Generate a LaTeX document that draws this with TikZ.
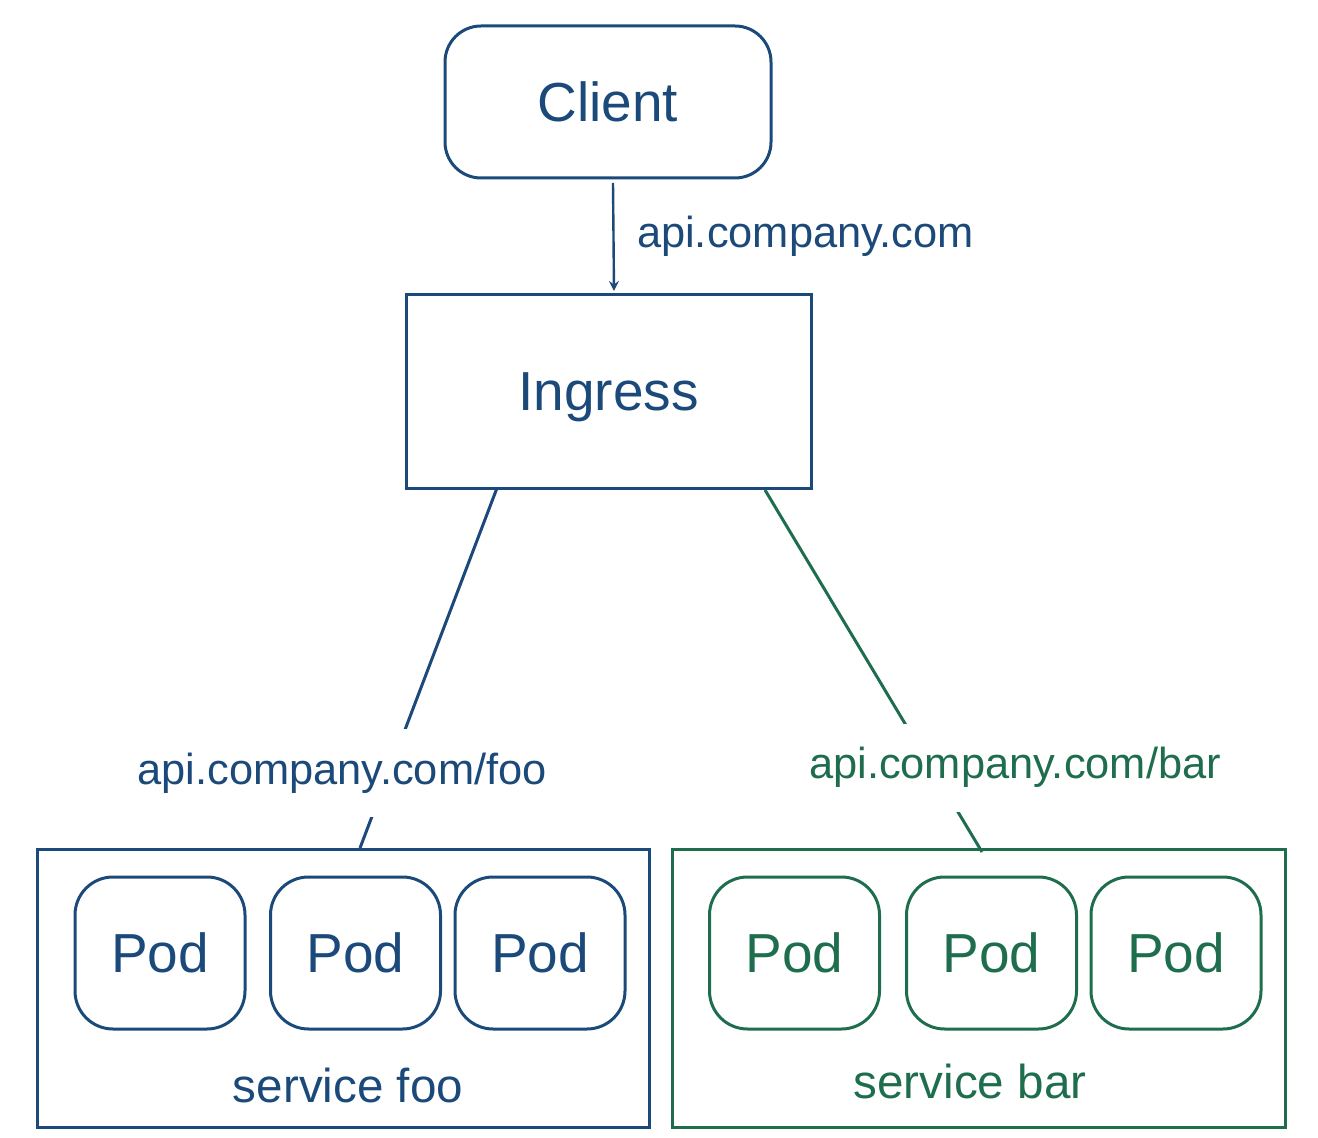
\documentclass[tikz,border=0pt]{standalone}
\usepackage{fontspec}
\setmainfont{Liberation Sans}
\usetikzlibrary{arrows}

\definecolor{fooblue}{RGB}{27,74,122}
\definecolor{bargreen}{RGB}{30,110,78}

\tikzset{
  box/.style={draw,line width=1.5pt,text depth=0pt,font=\fontsize{27.5}{30}\selectfont},
  pod/.style={box,rounded corners=19pt,minimum width=85pt,minimum height=76pt},
  url/.style={font=\fontsize{21.7}{24}\selectfont},
  svc/.style={font=\fontsize{23.8}{26}\selectfont}
}

\begin{document}
\begin{tikzpicture}[x=0.5pt,y=-0.5pt]
\useasboundingbox (0,0) rectangle (1318,1138);
\node[box,fooblue,rounded corners=18pt,minimum width=163pt,minimum height=76pt] (client) at (608,102) {Client};
\node[box,fooblue,minimum width=202.5pt,minimum height=97pt] (ingress) at (608.5,392) {Ingress};
\draw[fooblue,line width=1.5pt] (37,849) rectangle (649,1127);
\draw[bargreen,line width=1.5pt] (672,849) rectangle (1285,1127);
\node[pod,fooblue] (foo1) at (160,953) {Pod};
\node[pod,fooblue] (foo2) at (355.5,953) {Pod};
\node[pod,fooblue] (foo3) at (540,953) {Pod};
\node[pod,bargreen] (bar1) at (794.5,953) {Pod};
\node[pod,bargreen] (bar2) at (991.5,953) {Pod};
\node[pod,bargreen] (bar3) at (1176,953) {Pod};
\node[svc,fooblue,anchor=base] (svcfoo) at (348,1102) {service foo};
\node[svc,bargreen,anchor=base] (svcbar) at (970,1098) {service bar};
% connectors
\coordinate (clientbot) at (613,183);
\coordinate (ingresstop) at (614,291);
\draw[fooblue,line width=1.2pt,-stealth] (clientbot) -- (ingresstop);
\node[url,fooblue,anchor=base west] (urlapi) at (630,248) {api.company.com};
\coordinate (foostart) at (497,488);
\coordinate (fooend) at (360,848);
\coordinate (barstart) at (765,490);
\coordinate (barend) at (982,852);
\draw[fooblue,line width=1.5pt] (foostart) -- (fooend);
\draw[bargreen,line width=1.5pt] (barstart) -- (barend);
\node[url,fooblue,fill=white,inner ysep=12pt,anchor=base] (urlfoo) at (342,784) {api.company.com/foo};
\node[url,bargreen,fill=white,inner ysep=12pt,anchor=base] (urlbar) at (1015,779) {api.company.com/bar};
\end{tikzpicture}
\end{document}
